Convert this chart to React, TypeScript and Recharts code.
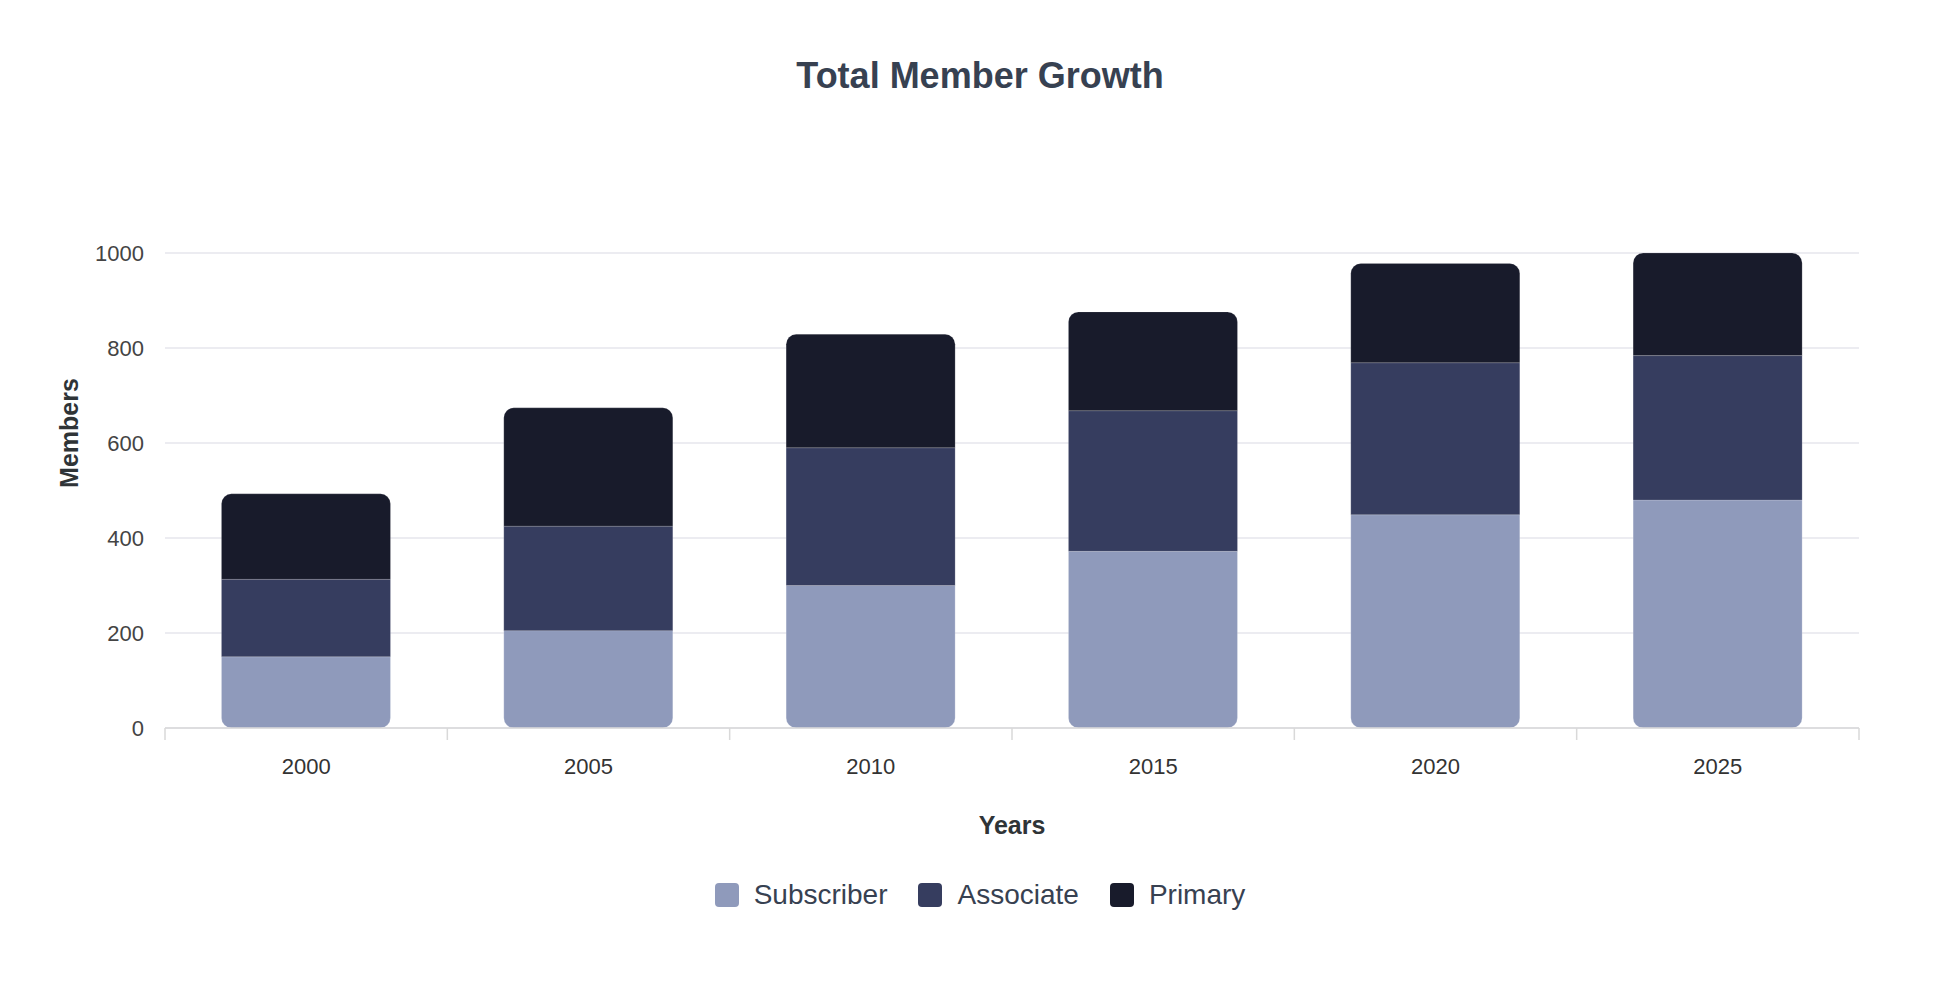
import React from 'react';
import { BarChart, Bar, XAxis, YAxis, CartesianGrid, Legend } from 'recharts';

const years = ['2000', '2005', '2010', '2015', '2020', '2025'];
const subscriberCounts = [150, 205, 300, 372, 449, 480];
const associateCounts = [163, 220, 290, 296, 320, 304];
const primaryCounts = [180, 249, 239, 208, 209, 216];
const memberTicks = [0, 200, 400, 600, 800, 1000];

const seriesInfo = [
  { key: 'subscriber', name: 'Subscriber', color: '#8f9abb' },
  { key: 'associate', name: 'Associate', color: '#363d5f' },
  { key: 'primary', name: 'Primary', color: '#181b2b' },
];

const data = years.map((year, i) => ({
  year,
  subscriber: subscriberCounts[i],
  associate: associateCounts[i],
  primary: primaryCounts[i],
}));

const FONT = '"Liberation Sans", Arial, Helvetica, sans-serif';
const CHART_W = 1944;
const CHART_H = 976;

// category label plus small tick marks on the band edges
const YearTick = (props: any) => {
  const { x, y, payload, index, visibleTicksCount } = props;
  const half = payload.offset ?? 0;
  const isLast = index === (visibleTicksCount ?? years.length) - 1;
  return (
    <g>
      <line x1={x - half} x2={x - half} y1={y} y2={y + 12} stroke="#d9d9d9" strokeWidth={1.5} />
      {isLast && <line x1={x + half} x2={x + half} y1={y} y2={y + 12} stroke="#d9d9d9" strokeWidth={1.5} />}
      <text x={x} y={y + 38} dy="0.35em" textAnchor="middle" fill="#333" fontSize={22} fontFamily={FONT}>
        {payload.value}
      </text>
    </g>
  );
};

const LegendRow = () => (
  <div
    style={{
      display: 'flex',
      justifyContent: 'center',
      alignItems: 'center',
      height: 40,
      fontFamily: FONT,
      fontSize: 28,
      color: '#374151',
    }}
  >
    {seriesInfo.map((s, i) => (
      <div key={s.key} style={{ display: 'flex', alignItems: 'center', marginLeft: i === 0 ? 0 : 31 }}>
        <span style={{ width: 24, height: 24, borderRadius: 4, background: s.color, marginRight: 15 }} />
        <span>{s.name}</span>
      </div>
    ))}
  </div>
);

export default function App() {
  return (
    <div style={{ position: 'relative', width: CHART_W, height: CHART_H, background: '#fff' }}>
      <div
        style={{
          position: 'absolute',
          top: 48,
          left: 0,
          width: CHART_W,
          textAlign: 'center',
          lineHeight: '40px',
          fontFamily: FONT,
          fontWeight: 700,
          fontSize: 36,
          color: '#374151',
          zIndex: 1,
        }}
      >
        Total Member Growth
      </div>
      <BarChart
        width={CHART_W}
        height={CHART_H}
        data={data}
        margin={{ top: 245, right: 93, bottom: 69, left: 0 }}
        barCategoryGap="20%"
      >
        <CartesianGrid vertical={false} stroke="#e6e6ec" strokeWidth={1.5} />
        <XAxis
          dataKey="year"
          height={147}
          tickLine={false}
          tickSize={0}
          tickMargin={0}
          axisLine={{ stroke: '#d9d9d9', strokeWidth: 1.5 }}
          tick={<YearTick />}
          interval={0}
          label={{
            content: (p: any) => {
              const vb = p.viewBox;
              return (
                <text
                  x={vb.x + vb.width / 2}
                  y={vb.y + 97}
                  dy="0.35em"
                  textAnchor="middle"
                  fill="#2f3437"
                  fontSize={25}
                  fontWeight={700}
                  fontFamily={FONT}
                >
                  Years
                </text>
              );
            },
          }}
        />
        <YAxis
          width={157}
          domain={[0, 1000]}
          ticks={memberTicks}
          axisLine={false}
          tickLine={false}
          tickSize={0}
          tickMargin={21}
          tick={{ fill: '#444', fontSize: 22, fontFamily: FONT }}
          label={{
            content: (p: any) => {
              const vb = p.viewBox;
              const cx = vb.x + 61;
              const cy = vb.y + 180;
              return (
                <text
                  x={cx}
                  y={cy}
                  dy="0.35em"
                  textAnchor="middle"
                  transform={`rotate(-90, ${cx}, ${cy})`}
                  fill="#2f3437"
                  fontSize={25}
                  fontWeight={700}
                  fontFamily={FONT}
                >
                  Members
                </text>
              );
            },
          }}
        />
        <Legend verticalAlign="bottom" wrapperStyle={{ left: 0, width: CHART_W }} content={() => <LegendRow />} />
        <Bar
          dataKey="subscriber"
          name="Subscriber"
          stackId="members"
          fill="#8f9abb"
          stroke="rgba(255,255,255,0.2)"
          radius={[0, 0, 10, 10]}
          isAnimationActive={false}
        />
        <Bar
          dataKey="associate"
          name="Associate"
          stackId="members"
          fill="#363d5f"
          stroke="rgba(255,255,255,0.15)"
          isAnimationActive={false}
        />
        <Bar
          dataKey="primary"
          name="Primary"
          stackId="members"
          fill="#181b2b"
          stroke="rgba(255,255,255,0.15)"
          radius={[10, 10, 0, 0]}
          isAnimationActive={false}
        />
      </BarChart>
    </div>
  );
}
